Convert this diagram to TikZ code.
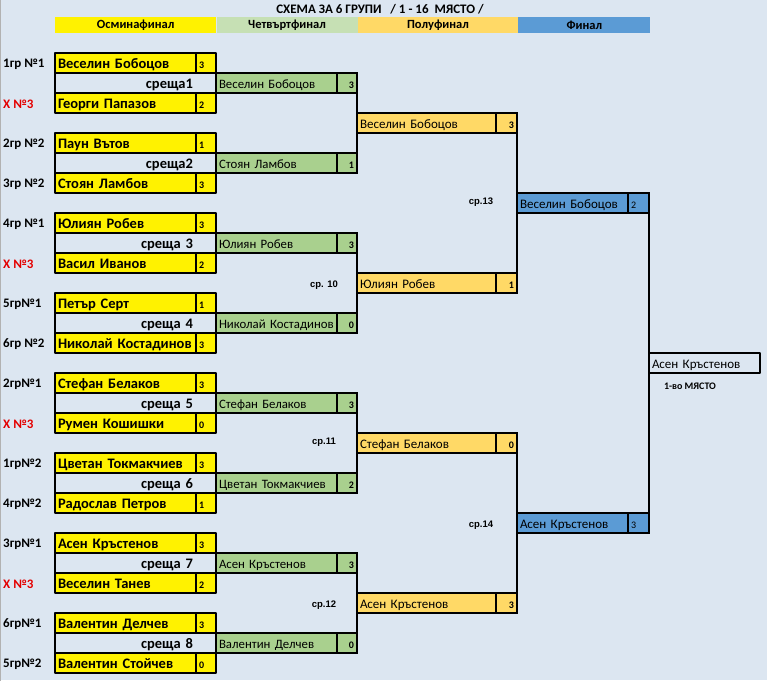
\documentclass[tikz,border=0pt]{standalone}
\usepackage{fontspec}
\setmainfont{Carlito}
\newfontfamily\arialf{Liberation Sans}
\definecolor{bgblue}{RGB}{220,230,241}
\definecolor{qfgreen}{RGB}{169,208,142}
\definecolor{hdgreen}{RGB}{198,224,180}
\definecolor{sforange}{RGB}{255,217,102}
\definecolor{finblue}{RGB}{91,155,213}
\definecolor{xred}{RGB}{228,0,0}
\newcommand\xthree{\textcolor{xred}{X №3}}
\begin{document}
\begin{tikzpicture}[x=1pt,y=-1pt,line join=round,line cap=rect,
    cell/.style={draw,line width=1.6pt,outer sep=0pt,inner ysep=0pt,inner xsep=3pt,
      minimum height=20pt,anchor=west,align=left,text height=10.5pt,text depth=0pt},
    pl/.style={cell,fill=yellow,text width=135pt,font=\fontsize{14.5}{15}\selectfont\bfseries},
    psc/.style={cell,fill=yellow,text width=14pt,font=\fontsize{10}{11}\selectfont\bfseries},
    mt/.style={cell,fill=bgblue,minimum width=161pt,text width=115pt,align=right,
      font=\fontsize{14.5}{15}\selectfont\bfseries},
    qf/.style={cell,fill=qfgreen,text width=115pt,font=\fontsize{12.8}{14}\selectfont},
    qsc/.style={cell,fill=qfgreen,text width=14pt,align=right,font=\fontsize{10}{11}\selectfont\bfseries},
    sf/.style={cell,fill=sforange,text width=133pt,font=\fontsize{13}{14}\selectfont},
    ssc/.style={cell,fill=sforange,text width=15pt,align=right,font=\fontsize{10}{11}\selectfont\bfseries},
    fin/.style={cell,fill=finblue,text width=105pt,font=\fontsize{13}{14}\selectfont},
    fsc/.style={cell,fill=finblue,text width=15pt,font=\fontsize{10}{11}\selectfont},
    grp/.style={anchor=west,inner sep=0pt,font=\fontsize{13}{14}\selectfont\bfseries},
    hd/.style={anchor=west,minimum height=16pt,inner sep=0pt,font=\fontsize{12.5}{13}\selectfont\bfseries},
    cp/.style={inner sep=0pt,font=\arialf\fontsize{9.5}{10}\selectfont\bfseries},
    con/.style={line width=1.6pt}]
    \fill[bgblue] (0,0) rectangle (767,680);
    \useasboundingbox (0,0) rectangle (767,680);
    \draw[gray!60,line width=1pt] (0.5,0) -- (0.5,680);
    % title and round headers
    \node[font=\fontsize{13}{14}\selectfont\bfseries] (title) at (380,9) {СХЕМА ЗА 6 ГРУПИ \ \ / 1 - 16 \ МЯСТО /};
    \node[hd,fill=yellow,minimum width=161pt] (h1) at (55,25) {Осминафинал};
    \node[hd,fill=hdgreen,minimum width=141pt] (h2) at (h1.east) {Четвъртфинал};
    \node[hd,fill=sforange,minimum width=160pt] (h3) at (h2.east) {Полуфинал};
    \node[hd,fill=finblue,minimum width=132pt] (h4) at (h3.east) {Финал};
    % players
    \foreach \nm/\s/\g [count=\k from 0] in {Веселин Бобоцов/3/1гр №1, Георги Папазов/2/\xthree,
        Паун Вътов/1/2гр №2, Стоян Ламбов/3/3гр №2, Юлиян Робев/3/4гр №1, Васил Иванов/2/\xthree,
        Петър Серт/1/5гр№1, Николай Костадинов/3/6гр №2, Стефан Белаков/3/2гр№1,
        Румен Кошишки/0/\xthree, Цветан Токмакчиев/3/1гр№2, Радослав Петров/1/4гр№2,
        Асен Кръстенов/3/3гр№1, Веселин Танев/2/\xthree, Валентин Делчев/3/6гр№1,
        Валентин Стойчев/0/5гр№2}{
      \pgfmathsetmacro\yy{63+40*\k}
      \node[pl] (p\k) at (55,\yy) {\mbox{\nm}};
      \node[psc] (ps\k) at (p\k.east) {\s};
      \node[grp] (g\k) at (3,\yy+1) {\g};
    }
    % matches and quarterfinals
    \foreach \t/\nm/\s [count=\m from 0] in {среща1/Веселин Бобоцов/3, среща2/Стоян Ламбов/1,
        среща 3/Юлиян Робев/3, среща 4/Николай Костадинов/0, среща 5/Стефан Белаков/3,
        среща 6/Цветан Токмакчиев/2, среща 7/Асен Кръстенов/3, среща 8/Валентин Делчев/0}{
      \pgfmathsetmacro\yy{83+80*\m}
      \node[mt] (m\m) at (55,\yy) {\t};
      \node[qf] (q\m) at (m\m.east) {\mbox{\nm}};
      \node[qsc] (qs\m) at (q\m.east) {\s};
    }
    % semifinals
    \foreach \nm/\s [count=\n from 0] in {Веселин Бобоцов/3, Юлиян Робев/1,
        Стефан Белаков/0, Асен Кръстенов/3}{
      \pgfmathsetmacro\yy{123+160*\n}
      \node[sf] (s\n) at (357,\yy) {\nm};
      \node[ssc] (ss\n) at (s\n.east) {\s};
    }
    % final
    \node[fin] (f0) at (517,203) {Веселин Бобоцов};
    \node[fsc] (fs0) at (f0.east) {2};
    \node[fin] (f1) at (517,523) {Асен Кръстенов};
    \node[fsc] (fs1) at (f1.east) {3};
    \node[cell,text width=105pt,font=\fontsize{13}{14}\selectfont] (w) at (649,363) {Асен Кръстенов};
    \node[inner sep=0pt,font=\fontsize{10}{11}\selectfont\bfseries] (wl) at (690,386) {1-во МЯСТО};
    % connectors
    \foreach \n in {0,...,3}{
      \pgfmathtruncatemacro\a{2*\n}
      \pgfmathtruncatemacro\b{2*\n+1}
      \draw[con] (qs\a.north east) -- (qs\b.south east);
    }
    \draw[con] (ss0.north east) -- (ss1.south east);
    \draw[con] (ss2.north east) -- (ss3.south east);
    \draw[con] (fs0.north east) -- (fs1.south east);
    % match numbers
    \node[cp] (c10) at (324,285) {ср. 10};
    \node[cp] (c11) at (324,442) {ср.11};
    \node[cp] (c12) at (324,605) {ср.12};
    \node[cp] (c13) at (481,202) {ср.13};
    \node[cp] (c14) at (481,525) {ср.14};
\end{tikzpicture}
\end{document}
